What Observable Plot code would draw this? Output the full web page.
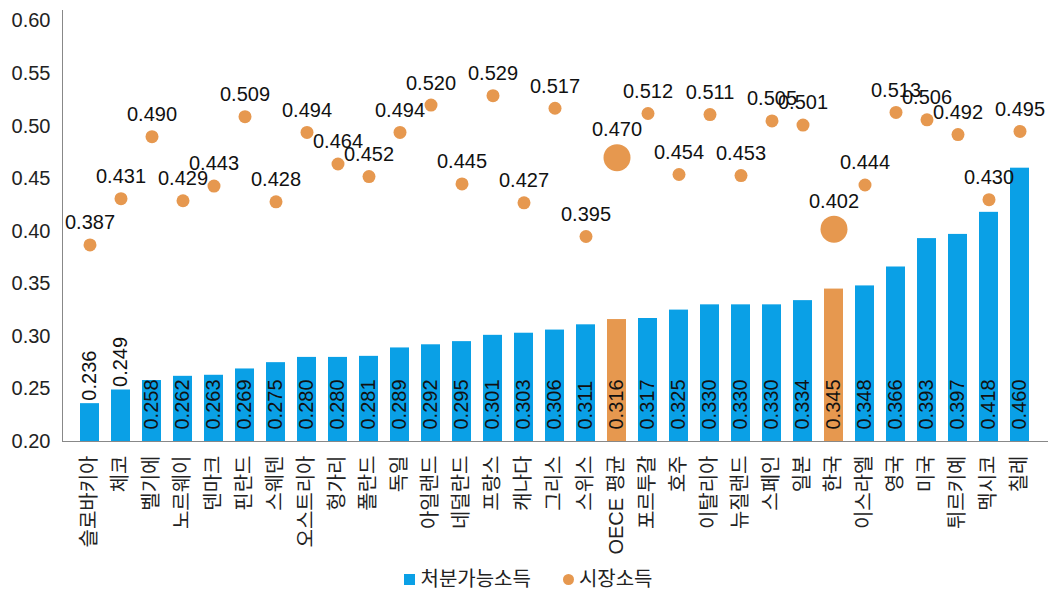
<!DOCTYPE html>
<html lang="ko">
<head>
<meta charset="utf-8">
<script src="https://cdn.jsdelivr.net/npm/d3@7"></script>
<script src="https://cdn.jsdelivr.net/npm/@observablehq/plot@0.6"></script>
<style>
  html, body { margin: 0; padding: 0; background: #fff; }
  body { width: 1053px; height: 592px; overflow: hidden; font-family: "Liberation Sans", "Noto Sans CJK KR", sans-serif; color: #222; }
  #chart svg { display: block; }
  .legend { display: flex; justify-content: center; align-items: center; height: 26px; margin-top: 5px; font-size: 20px; line-height: 26px; }
  .legend span.item { display: inline-flex; align-items: center; }
  .legend .sw { display: inline-block; width: 11px; height: 11px; margin-right: 5px; }
  .legend .sq { background: #0aa0e6; }
  .legend .ci { background: #e6984f; border-radius: 50%; }
</style>
</head>
<body>
<div id="chart"></div>
<div class="legend">
  <span class="item" style="margin-left:4px"><span class="sw sq"></span>처분가능소득</span>
  <span class="item" style="margin-left:32px"><span class="sw ci"></span>시장소득</span>
</div>
<script>
// Gini coefficients by country: disposable income (bars) and market income (dots)
const countries = ["슬로바키아", "체코", "벨기에", "노르웨이", "덴마크", "핀란드", "스웨덴", "오스트리아", "헝가리", "폴란드", "독일", "아일랜드", "네덜란드", "프랑스", "캐나다", "그리스", "스위스", "OECE 평균", "포르투갈", "호주", "이탈리아", "뉴질랜드", "스페인", "일본", "한국", "이스라엘", "영국", "미국", "튀르키예", "멕시코", "칠레"];
const disposable = [0.236, 0.249, 0.258, 0.262, 0.263, 0.269, 0.275, 0.280, 0.280, 0.281, 0.289, 0.292, 0.295, 0.301, 0.303, 0.306, 0.311, 0.316, 0.317, 0.325, 0.330, 0.330, 0.330, 0.334, 0.345, 0.348, 0.366, 0.393, 0.397, 0.418, 0.460];
const market = [0.387, 0.431, 0.490, 0.429, 0.443, 0.509, 0.428, 0.494, 0.464, 0.452, 0.494, 0.520, 0.445, 0.529, 0.427, 0.517, 0.395, 0.470, 0.512, 0.454, 0.511, 0.453, 0.505, 0.501, 0.402, 0.444, 0.513, 0.506, 0.492, 0.430, 0.495];
const highlighted = ["OECE 평균", "한국"];
const yTicks = [0.20, 0.25, 0.30, 0.35, 0.40, 0.45, 0.50, 0.55, 0.60];

const blue = "#0aa0e6";
const orange = "#e6984f";
const base = 0.2;

const rows = countries.map((c, i) => ({
  country: c,
  disposable: disposable[i],
  market: market[i],
  hi: highlighted.includes(c)
}));
const fmt = d3.format(".3f");
// short bars get their label above the bar instead of inside it
const fitsInside = d => d.disposable - base > 0.055;

const chart = Plot.plot({
  width: 1053,
  height: 561,
  marginTop: 10,
  marginLeft: 62,
  marginRight: 6,
  marginBottom: 120,
  style: { fontFamily: "'Liberation Sans', 'Noto Sans CJK KR', sans-serif", fontSize: "20px", color: "#222", background: "#fff", overflow: "visible" },
  x: { domain: countries, paddingInner: 0.39, paddingOuter: 0.5, label: null, tickSize: 0, tickPadding: 14, tickRotate: -90 },
  y: { domain: [0.2, 0.61], ticks: yTicks, tickFormat: d3.format(".2f"), tickSize: 0, tickPadding: 12, label: null },
  marks: [
    Plot.barY(rows, { x: "country", y1: base, y2: "disposable", fill: d => d.hi ? orange : blue }),
    Plot.frame({ anchor: "left", stroke: "#888" }),
    Plot.frame({ anchor: "bottom", stroke: "#888" }),
    Plot.text(rows.filter(fitsInside), {
      x: "country", y: () => base, text: d => fmt(d.disposable),
      rotate: -90, textAnchor: "start", lineAnchor: "middle", dy: -12, fill: "#111", fontSize: 20
    }),
    Plot.text(rows.filter(d => !fitsInside(d)), {
      x: "country", y: "disposable", text: d => fmt(d.disposable),
      rotate: -90, textAnchor: "start", lineAnchor: "middle", dy: -3, fill: "#111", fontSize: 20
    }),
    Plot.dot(rows.filter(d => !d.hi), { x: "country", y: "market", r: 6.5, fill: orange }),
    Plot.dot(rows.filter(d => d.hi), { x: "country", y: "market", r: 13.5, fill: orange }),
    Plot.text(rows.filter(d => !d.hi), { x: "country", y: "market", text: d => fmt(d.market), dy: -22, fill: "#111", fontSize: 20 }),
    Plot.text(rows.filter(d => d.hi), { x: "country", y: "market", text: d => fmt(d.market), dy: -28, fill: "#111", fontSize: 20 })
  ]
});
document.getElementById("chart").appendChild(chart);
</script>
</body>
</html>
